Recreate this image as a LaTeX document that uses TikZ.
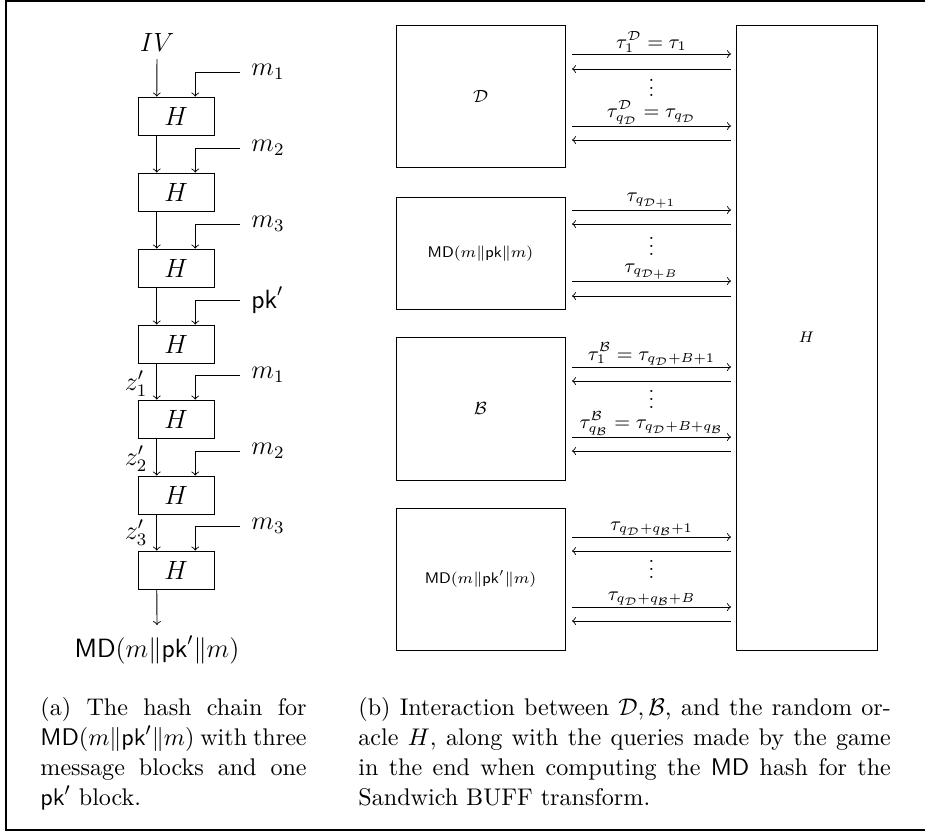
\documentclass[tikz,border=0pt]{standalone}
\usepackage{amsmath,amssymb}
\usepackage{fontspec}
\usetikzlibrary{calc}
\newcommand{\chainsize}{\fontsize{12}{14.5}\selectfont}
\newcommand{\arrsize}{\fontsize{9}{11}\selectfont}
\newcommand{\boxsize}{\fontsize{7}{8.5}\selectfont}
\newcommand{\calsize}{\fontsize{8}{9.5}\selectfont}
\newcommand{\capsize}{\fontsize{10.95}{13.6}\selectfont}
\newcommand{\mydots}{\vbox{\baselineskip3.6pt\lineskiplimit0pt\hbox{.}\hbox{.}\hbox{.}}}
\begin{document}
\begin{tikzpicture}[x=0.4545pt,y=-0.4545pt,>=to,
  hbox/.style={draw,minimum width=34.54pt,minimum height=17.27pt,inner sep=0pt,font=\chainsize},
  mlab/.style={anchor=west,inner xsep=5pt,inner ysep=0pt,font=\chainsize},
  zlab/.style={inner sep=0pt,font=\chainsize},
  rbox/.style={draw,minimum width=76.8pt,inner sep=0pt,font=\boxsize},
  alab/.style={anchor=south,inner sep=0.6pt,font=\arrsize},
  dotlab/.style={inner sep=0pt,font=\arrsize},
  capt/.style={anchor=north west,inner sep=0pt,align=justify,font=\capsize}]
\useasboundingbox (0,0) rectangle (925,831);
% frame
\draw[line width=0.5pt] (925,1) -- (6,1) -- (6,830) -- (925,830);

% ---------- (a) hash chain ----------
\node[zlab] (iv) at (157,42) {$IV$};
\foreach \k/\c in {1/116,2/192,3/268,4/344,5/419,6/495,7/570}{
  \node[hbox] (b\k) at (176,\c) {$H$};
}
\node[mlab] (m1) at (240,72) {$m_1$};
\node[mlab] (m2) at (240,148) {$m_2$};
\node[mlab] (m3) at (240,224) {$m_3$};
\node[mlab] (pk) at (240,300) {$\mathsf{pk}'$};
\node[mlab] (m4) at (240,375) {$m_1$};
\node[mlab] (m5) at (240,451) {$m_2$};
\node[mlab] (m6) at (240,526) {$m_3$};
\draw[->] (m1.west) -| ($(b1.north west)!0.75!(b1.north east)$);
\draw[->] (m2.west) -| ($(b2.north west)!0.75!(b2.north east)$);
\draw[->] (m3.west) -| ($(b3.north west)!0.75!(b3.north east)$);
\draw[->] (pk.west) -| ($(b4.north west)!0.75!(b4.north east)$);
\draw[->] (m4.west) -| ($(b5.north west)!0.75!(b5.north east)$);
\draw[->] (m5.west) -| ($(b6.north west)!0.75!(b6.north east)$);
\draw[->] (m6.west) -| ($(b7.north west)!0.75!(b7.north east)$);
\draw[->,shorten <=3.5pt] (iv.south) -- ($(b1.north west)!0.25!(b1.north east)$);
\foreach \a/\b in {1/2,2/3,3/4,4/5,5/6,6/7}{
  \draw[->] ($(b\a.south west)!0.25!(b\a.south east)$) -- ($(b\b.north west)!0.25!(b\b.north east)$);
}
\node[zlab] (z1) at (136,384) {$z_1'$};
\node[zlab] (z2) at (136,459) {$z_2'$};
\node[zlab] (z3) at (136,533) {$z_3'$};
\node[zlab] (out) at (157,650) {$\mathsf{MD}(m\|\mathsf{pk}'\|m)$};
\coordinate (outtip) at (157,625);
\draw[->] ($(b7.south west)!0.25!(b7.south east)$) -- (outtip);

% ---------- (b) interaction ----------
\node[rbox,minimum height=64.54pt,font=\calsize] (D) at (480.5,96) {$\mathcal{D}$};
\node[rbox,minimum height=50.9pt] (MD) at (480.5,253.5) {$\mathsf{MD}(m\|\mathsf{pk}\|m)$};
\node[rbox,minimum height=65pt,font=\calsize] (B) at (480.5,408.5) {$\mathcal{B}$};
\node[rbox,minimum height=64.54pt] (MDp) at (480.5,579) {$\mathsf{MD}(m\|\mathsf{pk}'\|m)$};
\node[draw,minimum width=64.1pt,minimum height=284.1pt,inner sep=0pt,font=\boxsize] (H) at (806.5,337.5) {$H$};

% arrows D
\coordinate (d1s) at (572,54);  \coordinate (d1e) at (731,54);
\coordinate (d2s) at (731,69);  \coordinate (d2e) at (572,69);
\coordinate (d3s) at (572,126); \coordinate (d3e) at (731,126);
\coordinate (d4s) at (731,140); \coordinate (d4e) at (572,140);
\draw[->] (d1s) -- node[alab]{$\tau_1^{\mathcal D}=\tau_1$} (d1e);
\draw[->] (d2s) -- (d2e);
\draw[->] (d3s) -- node[alab]{$\tau_{q_{\mathcal D}}^{\mathcal D}=\tau_{q_{\mathcal D}}$} (d3e);
\draw[->] (d4s) -- (d4e);
\node[dotlab] (dd) at (651.5,88) {\mydots};
% arrows MD
\coordinate (e1s) at (572,210); \coordinate (e1e) at (731,210);
\coordinate (e2s) at (731,224); \coordinate (e2e) at (572,224);
\coordinate (e3s) at (572,281); \coordinate (e3e) at (731,281);
\coordinate (e4s) at (731,296); \coordinate (e4e) at (572,296);
\draw[->] (e1s) -- node[alab]{$\tau_{q_{\mathcal D+1}}$} (e1e);
\draw[->] (e2s) -- (e2e);
\draw[->] (e3s) -- node[alab]{$\tau_{q_{\mathcal D+B}}$} (e3e);
\draw[->] (e4s) -- (e4e);
\node[dotlab] (de) at (651.5,246) {\mydots};
% arrows B
\coordinate (f1s) at (572,367); \coordinate (f1e) at (731,367);
\coordinate (f2s) at (731,381); \coordinate (f2e) at (572,381);
\coordinate (f3s) at (572,437); \coordinate (f3e) at (731,437);
\coordinate (f4s) at (731,451); \coordinate (f4e) at (572,451);
\draw[->] (f1s) -- node[alab]{$\tau_1^{\mathcal B}=\tau_{q_{\mathcal D}+B+1}$} (f1e);
\draw[->] (f2s) -- (f2e);
\draw[->] (f3s) -- node[alab]{$\tau_{q_{\mathcal B}}^{\mathcal B}=\tau_{q_{\mathcal D}+B+q_{\mathcal B}}$} (f3e);
\draw[->] (f4s) -- (f4e);
\node[dotlab] (df) at (651.5,399) {\mydots};
% arrows MD'
\coordinate (g1s) at (572,537); \coordinate (g1e) at (731,537);
\coordinate (g2s) at (731,551); \coordinate (g2e) at (572,551);
\coordinate (g3s) at (572,607); \coordinate (g3e) at (731,607);
\coordinate (g4s) at (731,621); \coordinate (g4e) at (572,621);
\draw[->] (g1s) -- node[alab]{$\tau_{q_{\mathcal D}+q_{\mathcal B}+1}$} (g1e);
\draw[->] (g2s) -- (g2e);
\draw[->] (g3s) -- node[alab]{$\tau_{q_{\mathcal D}+q_{\mathcal B}+B}$} (g3e);
\draw[->] (g4s) -- (g4e);
\node[dotlab] (dg) at (651.5,569) {\mydots};

% ---------- captions ----------
\node[capt,text width=121pt] (capa) at (40,697)
  {(a) The hash chain for $\mathsf{MD}(m\|\mathsf{pk}'\|m)$ with three message blocks and one $\mathsf{pk}'$ block.};
\node[capt,text width=242pt] (capb) at (358,697)
  {(b) Interaction between $\mathcal{D},\mathcal{B}$, and the random oracle $H$, along with the queries made by the game in the end when computing the $\mathsf{MD}$ hash for the Sandwich BUFF transform.};
\end{tikzpicture}
\end{document}
